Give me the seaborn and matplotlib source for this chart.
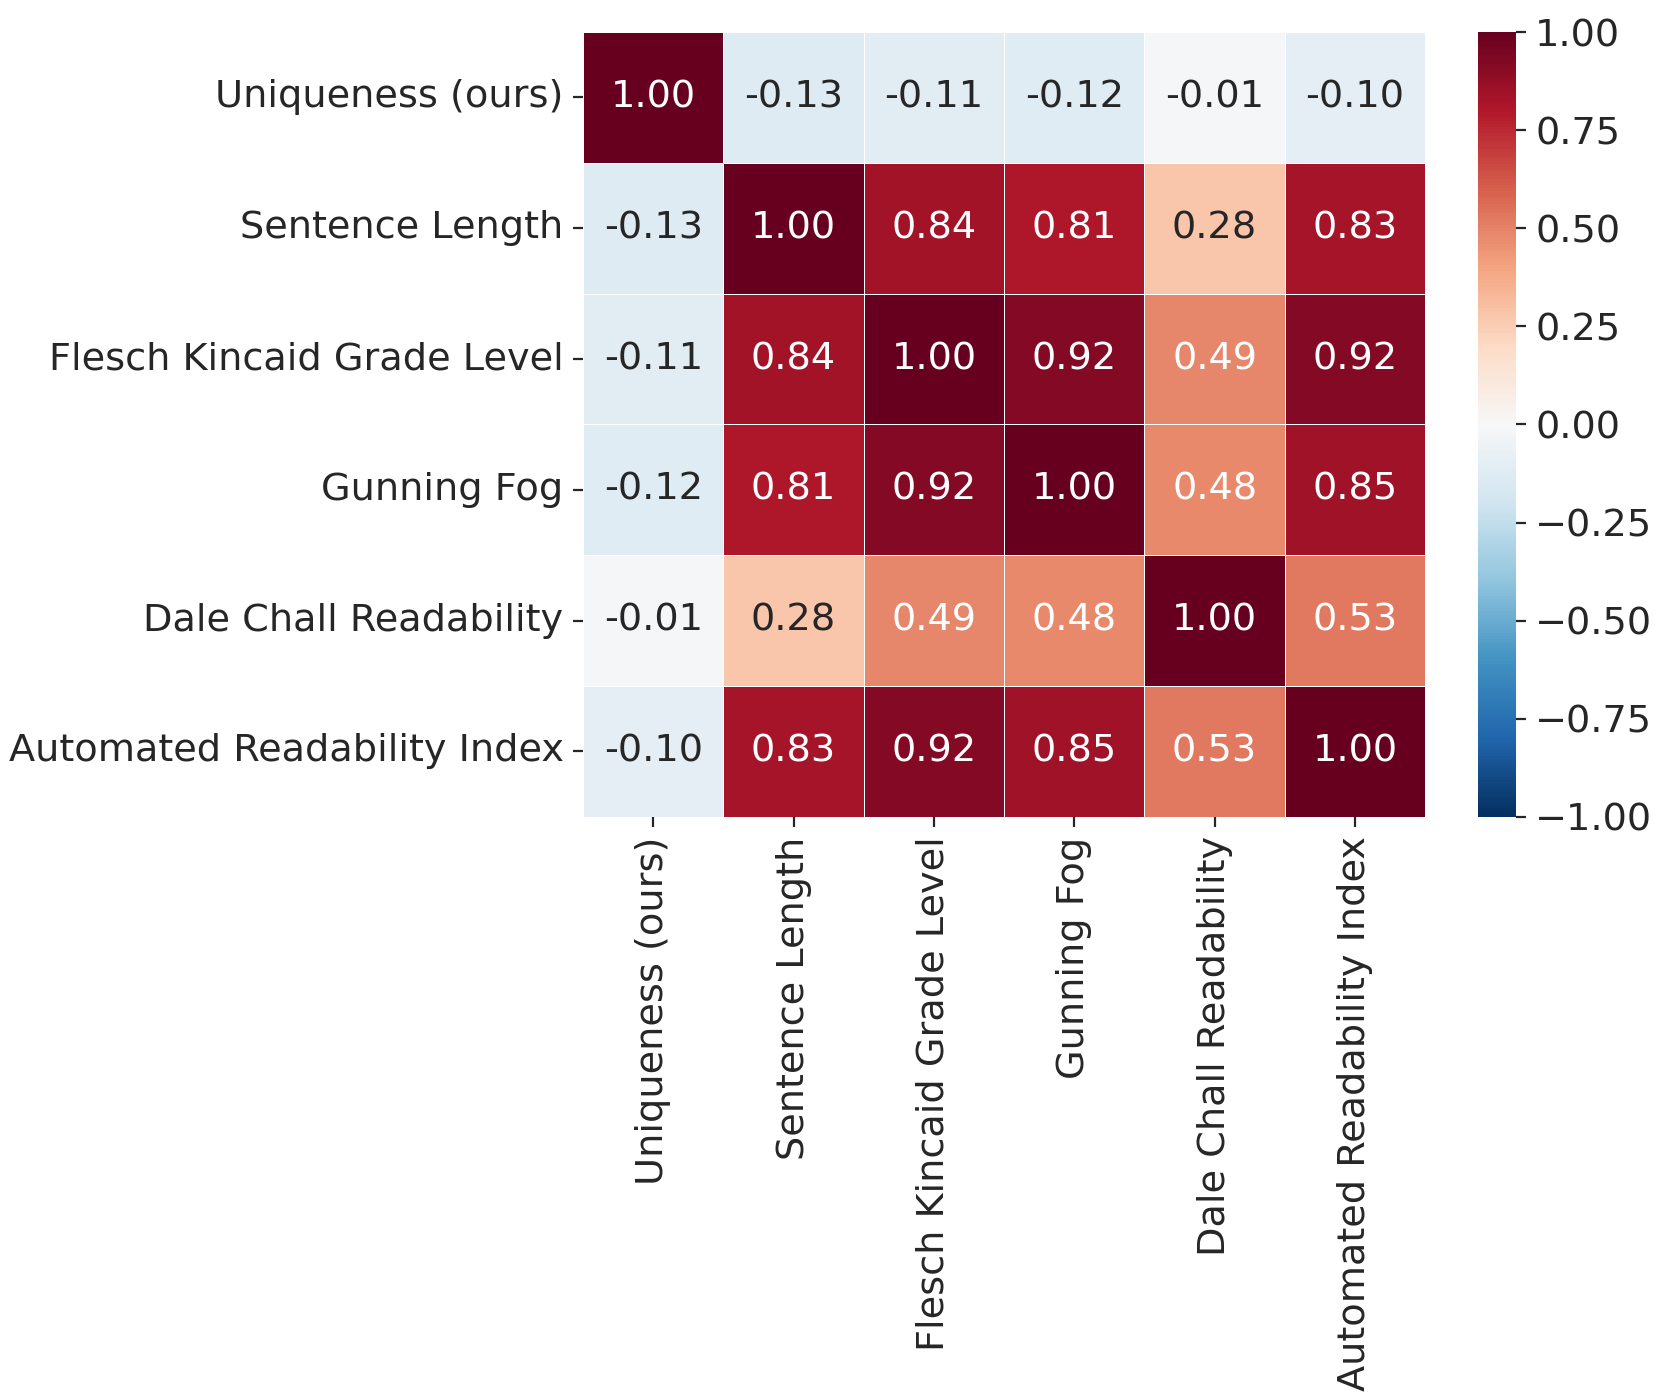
import numpy as np
import pandas as pd
import matplotlib
matplotlib.use("Agg")
import matplotlib.pyplot as plt
import seaborn as sns

# metric names and correlation values
labels = ["Uniqueness (ours)", "Sentence Length", "Flesch Kincaid Grade Level",
          "Gunning Fog", "Dale Chall Readability", "Automated Readability Index"]
row_uniq = [1.00, -0.13, -0.11, -0.12, -0.01, -0.10]
row_sent = [-0.13, 1.00, 0.84, 0.81, 0.28, 0.83]
row_fk = [-0.11, 0.84, 1.00, 0.92, 0.49, 0.92]
row_fog = [-0.12, 0.81, 0.92, 1.00, 0.48, 0.85]
row_dale = [-0.01, 0.28, 0.49, 0.48, 1.00, 0.53]
row_ari = [-0.10, 0.83, 0.92, 0.85, 0.53, 1.00]

corr = pd.DataFrame([row_uniq, row_sent, row_fk, row_fog, row_dale, row_ari],
                    index=labels, columns=labels)

sns.set_style("white")
plt.rcParams["font.family"] = ["DejaVu Sans"]
plt.rcParams["font.size"] = 13.75
fs = 13.75

fig = plt.figure(figsize=(8.305, 6.97), dpi=200)
ax = fig.add_axes([0.351, 0.414, 0.507, 0.563])
cax = fig.add_axes([0.890, 0.414, 0.0225, 0.563])

sns.heatmap(corr, annot=True, fmt=".2f", cmap="RdBu_r", vmin=-1, vmax=1,
            linewidths=0.3, linecolor="white", ax=ax, cbar_ax=cax,
            annot_kws={"size": fs})
ax.tick_params(axis="both", labelsize=fs, length=3.5, color=".15", left=True, bottom=True)
ax.set_xticklabels(labels, rotation=90)
ax.set_yticklabels(labels, rotation=0)
cax.tick_params(labelsize=fs, length=3.5, color=".15", right=True)

fig.savefig("out.png", dpi=200)
